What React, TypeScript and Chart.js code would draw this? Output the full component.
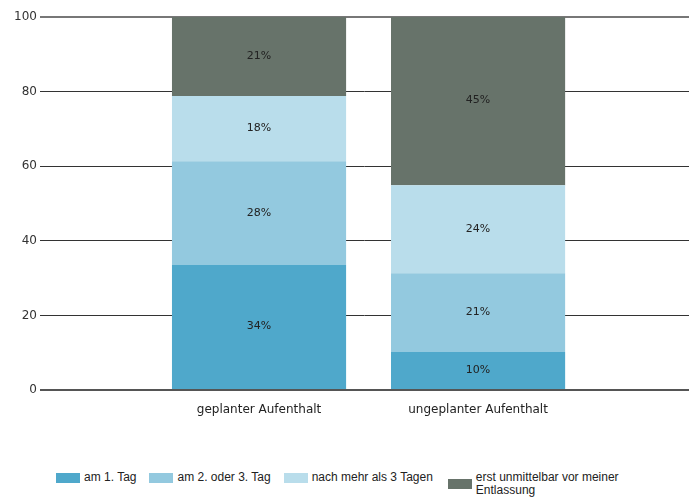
import React, { useEffect, useRef } from "react";
import { Chart, registerables } from "chart.js";

Chart.register(...registerables);

const categories = ["geplanter Aufenthalt", "ungeplanter Aufenthalt"];
const seriesNames = [
  "am 1. Tag",
  "am 2. oder 3. Tag",
  "nach mehr als 3 Tagen",
  "erst unmittelbar vor meiner Entlassung",
];
const day1 = [33.5, 10.2];
const day2to3 = [27.8, 21.1];
const moreThan3 = [17.5, 23.6];
const beforeDischarge = [21.2, 45.1];
const seriesValues = [day1, day2to3, moreThan3, beforeDischarge];
const seriesColors = ["#4fa8cb", "#93c9df", "#b9ddeb", "#67736a"];
const yTicks = [0, 20, 40, 60, 80, 100];

const segmentLabels = {
  id: "segmentLabels",
  afterDatasetsDraw(chart: any) {
    const ctx = chart.ctx;
    ctx.save();
    ctx.font = "11px 'DejaVu Sans'";
    ctx.fillStyle = "#222";
    ctx.textAlign = "center";
    ctx.textBaseline = "middle";
    chart.data.datasets.forEach((ds: any, i: number) => {
      const meta = chart.getDatasetMeta(i);
      meta.data.forEach((bar: any, j: number) => {
        const p = bar.getProps(["x", "y", "base"], true);
        const v = ds.data[j].y;
        ctx.fillText(Math.round(v) + "%", p.x, (p.y + p.base) / 2 - 0.5);
      });
    });
    ctx.restore();
  },
};

export default function App() {
  const ref = useRef<HTMLCanvasElement>(null);

  useEffect(() => {
    document.body.style.margin = "0";
    const datasets = seriesNames.map((name, i) => ({
      label: name,
      data: categories.map((_, j) => ({ x: j + 1, y: seriesValues[i][j] })),
      backgroundColor: seriesColors[i],
      borderWidth: 0,
      barPercentage: 0.795,
      categoryPercentage: 1,
    }));
    const chart = new Chart(ref.current!, {
      type: "bar",
      data: { datasets },
      options: {
        animation: false,
        responsive: false,
        devicePixelRatio: 1,
        layout: { padding: { top: 17, left: 0, right: 0, bottom: 0 } },
        plugins: { legend: { display: false }, tooltip: { enabled: false } },
        scales: {
          x: {
            type: "linear",
            stacked: true,
            min: 0,
            max: 2.963,
            offset: false,
            grid: { display: false },
            border: { display: false },
            afterBuildTicks: (scale: any) => {
              scale.ticks = categories.map((_, j) => ({ value: j + 1 }));
            },
            afterFit: (scale: any) => {
              scale.height = 41;
            },
            ticks: {
              callback: (v: any) => categories[Number(v) - 1] ?? "",
              font: { family: "'DejaVu Sans'", size: 12 },
              color: "#222",
              padding: 5,
              maxRotation: 0,
              autoSkip: false,
            },
          },
          y: {
            stacked: true,
            min: 0,
            max: 100,
            border: { display: false },
            afterBuildTicks: (scale: any) => {
              scale.ticks = yTicks.map((v) => ({ value: v }));
            },
            afterFit: (scale: any) => {
              scale.width = 40;
            },
            grid: {
              drawTicks: false,
              color: (c: any) => (c.tick && c.tick.value === 0 ? "#555" : c.tick && c.tick.value === 100 ? "#777" : "#333"),
              lineWidth: (c: any) => (c.tick && (c.tick.value === 0 || c.tick.value === 100) ? 2 : 1),
            },
            ticks: {
              font: { family: "'DejaVu Sans'", size: 12 },
              color: "#333",
              padding: 3,
            },
          },
        },
      },
      plugins: [segmentLabels],
    });
    return () => chart.destroy();
  }, []);

  return (
    <div style={{ position: "relative", width: 689, height: 497, background: "#fff" }}>
      <canvas ref={ref} width={689} height={431} style={{ display: "block" }} />
      <div
        style={{
          position: "absolute",
          left: 56,
          top: 471,
          display: "flex",
          alignItems: "flex-start",
          gap: 13,
          fontFamily: "'Liberation Sans', Arial, sans-serif",
          fontSize: 12,
          lineHeight: "13px",
          color: "#222",
        }}
      >
        {seriesNames.map((name, i) => (
          <div key={name} style={{ display: "flex", alignItems: "center", marginLeft: i === 3 ? 2 : 0 }}>
            <span
              style={{
                display: "inline-block",
                width: 24,
                height: 10,
                background: seriesColors[i],
                marginRight: 4,
                flex: "none",
              }}
            />
            <span style={{ maxWidth: i === 3 ? 150 : undefined, whiteSpace: i === 3 ? "normal" : "nowrap" }}>{name}</span>
          </div>
        ))}
      </div>
    </div>
  );
}
